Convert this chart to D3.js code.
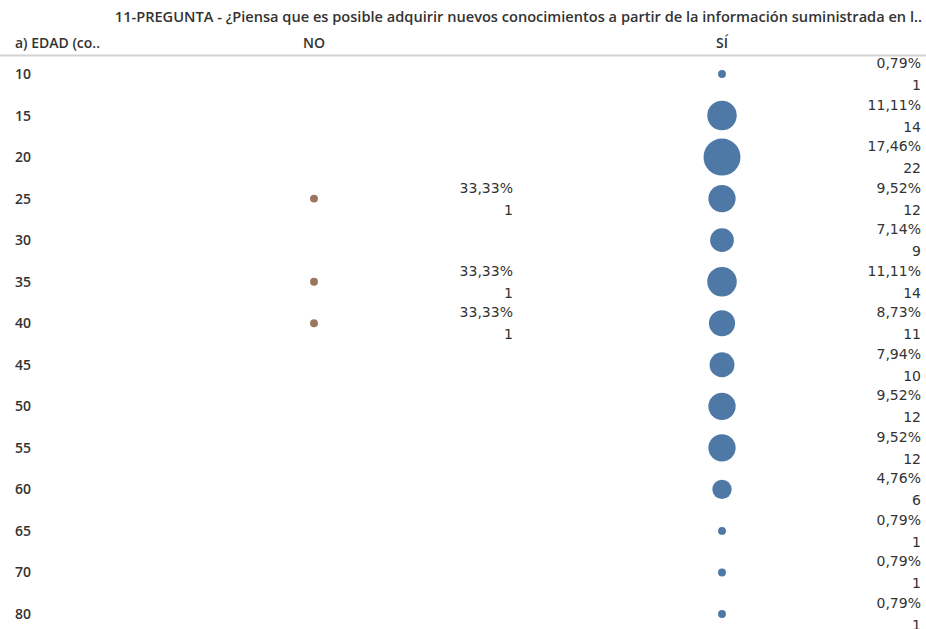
<!DOCTYPE html>
<html>
<head>
<meta charset="utf-8">
<script src="https://cdn.jsdelivr.net/npm/d3@7"></script>
<style>
  body { margin: 0; background: #fff; }
</style>
</head>
<body>
<script>
// Set Dimensions

const width = 926;
const height = 629;

// Data

const ages = ["10", "15", "20", "25", "30", "35", "40", "45", "50", "55", "60", "65", "70", "80"];
const answers = ["NO", "SÍ"];
const noCounts = [0, 0, 0, 1, 0, 1, 1, 0, 0, 0, 0, 0, 0, 0];
const noPct = ["", "", "", "33,33%", "", "33,33%", "33,33%", "", "", "", "", "", "", ""];
const siCounts = [1, 14, 22, 12, 9, 14, 11, 10, 12, 12, 6, 1, 1, 1];
const siPct = ["0,79%", "11,11%", "17,46%", "9,52%", "7,14%", "11,11%", "8,73%", "7,94%", "9,52%", "9,52%", "4,76%", "0,79%", "0,79%", "0,79%"];

const title = "11-PREGUNTA - ¿Piensa que es posible adquirir nuevos conocimientos a partir de la información suministrada en l..";
const rowHeader = "a) EDAD (co..";

const colors = { "NO": "#9c755f", "SÍ": "#4e79a7" };

const headFont = "'Open Sans', 'Noto Sans', sans-serif";
const labelFont = "'DejaVu Sans', sans-serif";

// build a flat table from the arrays
const cells = [];
ages.forEach((a, i) => {
  if (noCounts[i] > 0) cells.push({ age: a, ans: "NO", n: noCounts[i], pct: noPct[i] });
  if (siCounts[i] > 0) cells.push({ age: a, ans: "SÍ", n: siCounts[i], pct: siPct[i] });
});

const svg = d3.select("body")
  .append("svg")
  .attr("width", width)
  .attr("height", height);

// Scales

const y = d3.scalePoint()
  .domain(ages)
  .range([74, 614]);

const x = d3.scalePoint()
  .domain(answers)
  .range([314, 722]);

// right edge of each pane for the labels
const labelRight = { "NO": 513, "SÍ": 921 };

const r = d3.scaleSqrt()
  .domain([0, d3.max(siCounts)])
  .range([0, 18.5]);

// Title

svg.append("text")
  .attr("x", 922)
  .attr("y", 22)
  .attr("text-anchor", "end")
  .style("font-family", headFont)
  .style("font-size", "14.6px")
  .style("font-weight", 600)
  .attr("fill", "#333")
  .text(title);

// Header row

svg.append("text")
  .attr("x", 15)
  .attr("y", 48)
  .style("font-family", headFont)
  .style("font-size", "14px")
  .style("font-weight", 600)
  .attr("fill", "#333")
  .text(rowHeader);

svg.selectAll(".colhead")
  .data(answers)
  .enter()
  .append("text")
  .attr("class", "colhead")
  .attr("x", d => x(d))
  .attr("y", 48)
  .attr("text-anchor", "middle")
  .style("font-family", headFont)
  .style("font-size", "14px")
  .style("font-weight", 600)
  .attr("fill", "#333")
  .text(d => d);

svg.append("line")
  .attr("x1", 0)
  .attr("x2", width)
  .attr("y1", 55.5)
  .attr("y2", 55.5)
  .attr("stroke", "#d4d4d4")
  .attr("stroke-width", 2);

// Row labels

svg.selectAll(".rowlab")
  .data(ages)
  .enter()
  .append("text")
  .attr("class", "rowlab")
  .attr("x", 15)
  .attr("y", d => y(d) + 5)
  .style("font-family", headFont)
  .style("font-size", "14px")
  .style("font-weight", 600)
  .attr("fill", "#333")
  .text(d => d);

// Circles

svg.selectAll(".dot")
  .data(cells)
  .enter()
  .append("circle")
  .attr("class", "dot")
  .attr("cx", d => x(d.ans))
  .attr("cy", d => y(d.age))
  .attr("r", d => Math.max(3.5, r(d.n)))
  .attr("fill", d => colors[d.ans]);

// Labels: percent on top, count below

svg.selectAll(".pct")
  .data(cells)
  .enter()
  .append("text")
  .attr("class", "pct")
  .attr("x", d => labelRight[d.ans])
  .attr("y", d => y(d.age) - 6)
  .attr("text-anchor", "end")
  .style("font-family", labelFont)
  .style("font-size", "14px")
  .attr("fill", "#333")
  .text(d => d.pct);

svg.selectAll(".cnt")
  .data(cells)
  .enter()
  .append("text")
  .attr("class", "cnt")
  .attr("x", d => labelRight[d.ans])
  .attr("y", d => y(d.age) + 16)
  .attr("text-anchor", "end")
  .style("font-family", labelFont)
  .style("font-size", "14px")
  .attr("fill", "#333")
  .text(d => d.n);
</script>
</body>
</html>
